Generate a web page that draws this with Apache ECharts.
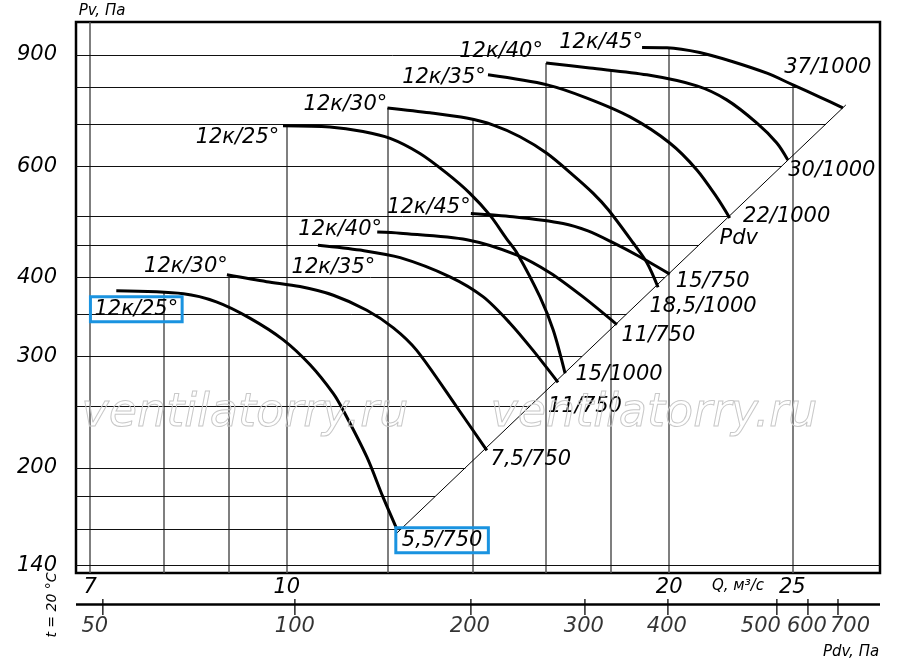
<!DOCTYPE html>
<html><head><meta charset="utf-8">
<script src="https://cdn.jsdelivr.net/npm/echarts@6/dist/echarts.min.js"></script>
<style>html,body{margin:0;padding:0;background:#fff}#c{width:900px;height:669px}</style>
</head><body><div id="c"></div>
<script>
// ---- axis extents (Q, m3/s ; Pv, Pa) ----
const Q_MIN = 6.823, Q_MAX = 29.31, P_MIN = 136.3, P_MAX = 1014.7;

// ---- labels ----
const bladeLabels = ['12к/25°','12к/30°','12к/35°','12к/40°','12к/45°'];
const motor750 = ['5,5/750','7,5/750','11/750','11/750','15/750'];
const motor1000 = ['15/1000','18,5/1000','22/1000','30/1000','37/1000'];

// ---- curves [Q, Pv], 750 rpm group ----
const c750_25 = [[7.34,381],[8.29,377],[8.8,366],[9.35,345],[9.93,319],[10.43,291],[10.88,262],[11.07,247],[11.56,208],[11.9,180],[12.19,161]];
const c750_30 = [[8.97,404],[9.64,394],[10.24,387],[10.88,375],[11.56,355],[12.13,333],[12.65,307],[13.6,250],[14.37,213]];
const c750_35 = [[10.58,450],[11.42,442],[12.28,430],[13.44,401],[14.27,373],[14.98,339],[15.62,307],[16.35,273]];
const c750_40 = [[11.78,472],[12.28,470],[13.86,459],[15.18,434],[16.11,407],[17.1,373],[18.19,337]];
const c750_45 = [[13.96,505],[15.07,499],[16.5,487],[17.26,474],[18.03,455],[18.9,433],[20.02,405]];
// ---- curves [Q, Pv], 1000 rpm group ----
const c1000_25 = [[9.93,695],[10.81,692],[11.48,681],[12.06,664],[12.72,629],[13.36,585],[13.93,544],[14.45,502],[14.89,461],[15.18,437],[15.82,373],[16.21,330],[16.56,282]];
const c1000_30 = [[12.0,742],[12.96,729],[13.85,715],[14.54,697],[15.26,668],[16.02,629],[16.8,581],[17.42,544],[17.91,512],[18.73,454],[19.21,422],[19.6,386]];
const c1000_35 = [[14.4,837],[16.03,807],[17.23,769],[18.63,718],[20.02,653],[21.03,592],[21.8,536],[22.32,497]];
const c1000_40 = [[16.0,874],[17.32,858],[19.21,837],[21.03,804],[22.2,764],[23.45,702],[24.31,653],[24.8,614]];
const c1000_45 = [[19.04,925],[19.92,924],[21.14,908],[22.45,878],[23.88,842],[25.03,807],[26.28,772],[27.4,742]];
// ---- dynamic pressure line ----
const pdvLine = [[12.2,157.5],[27.55,750]];

// ---- grid & ticks ----
const qGrid = [7,8,9,10,12,14,16,18,20,25];
const pGrid = [140,160,180,200,250,300,350,400,450,500,600,700,800,900];
const qTickLabels = [7,10,20,25];
const pTickLabels = [140,200,300,400,600,900];
const pdvTickLabels = ['50','100','200','300','400','500','600','700'];
const pdvTickQ = [7.163,10.146,13.96,17.166,19.953,24.31,25.72,27.16];

// ---- label placement (pixel offsets) ----
const startOff750 = [[20,18.5],[-41,-8],[15.5,22],[-37,-3],[-42,-5.5]];
const endOff750 = [[46,13],[44,9],[27,24],[41.5,11],[43,7]];
const startOff1000 = [[-45.5,12],[-42,-3],[-44,2.5],[-45,-11],[-41,-5]];
const endOff1000 = [[54,1],[45,19],[57,-1],[44,11],[-15,-40]];
const pdvLabelDx = [-8,0,-1,-1,-1,-16,-1,12];

const curves750 = [c750_25,c750_30,c750_35,c750_40,c750_45];
const curves1000 = [c1000_25,c1000_30,c1000_35,c1000_40,c1000_45];
const allCurves = curves750.concat(curves1000);

const L = Math.log10;
function pAt(c,q){for(let i=0;i<c.length-1;i++){const [q1,p1]=c[i],[q2,p2]=c[i+1];if(q>=q1&&q<=q2){const t=(L(q)-L(q1))/(L(q2)-L(q1));return Math.pow(10,L(p1)+t*(L(p2)-L(p1)));}}return null;}
function qAt(c,p){let best=null;for(let i=0;i<c.length-1;i++){const [q1,p1]=c[i],[q2,p2]=c[i+1];if(p1===p2)continue;if(p>=Math.min(p1,p2)&&p<=Math.max(p1,p2)){const t=(L(p)-L(p1))/(L(p2)-L(p1));const q=Math.pow(10,L(q1)+t*(L(q2)-L(q1)));if(best===null||q>best)best=q;}}return best;}

const segs=[];
qGrid.forEach(q=>{let top=null;allCurves.forEach(c=>{const v=pAt(c,q);if(v!==null&&(top===null||v>top))top=v;});
  segs.push({coords:[[q,P_MIN],[q,top===null?P_MAX:top]],lineStyle:{color:'#555',width:1.5}});});
pGrid.forEach(p=>{let r=null;allCurves.concat([pdvLine]).forEach(c=>{const v=qAt(c,p);if(v!==null&&(r===null||v>r))r=v;});
  segs.push({coords:[[Q_MIN,p],[r===null?Q_MAX:r,p]],lineStyle:{color:'#111',width:1}});});

const FONT={fontFamily:'DejaVu Sans',fontStyle:'italic',fontSize:21,color:'#000'};
const BLUE='#1a93e0';
function mkLabel(pt,text,off,boxed,padH){
  const lab=Object.assign({show:true,position:'inside',formatter:text,offset:off,lineHeight:23,textBorderWidth:0,opacity:1},FONT);
  if(boxed){lab.borderColor=BLUE;lab.borderWidth=3;lab.padding=[1,padH,1,padH];}
  return {value:pt,label:lab};
}
const labelItems=[];
curves750.forEach((c,i)=>{labelItems.push(mkLabel(c[0],bladeLabels[i],startOff750[i],i===0,4));labelItems.push(mkLabel(c[c.length-1],motor750[i],endOff750[i],i===0,6));});
curves1000.forEach((c,i)=>{labelItems.push(mkLabel(c[0],bladeLabels[i],startOff1000[i],false));labelItems.push(mkLabel(c[c.length-1],motor1000[i],endOff1000[i],false));});
labelItems.push(mkLabel(c1000_35[c1000_35.length-1],'Pdv',[9,21],false));

const series=[
  {type:'lines',coordinateSystem:'cartesian2d',xAxisIndex:0,yAxisIndex:0,data:segs,silent:true,z:1,lineStyle:{opacity:1}},
  {type:'line',xAxisIndex:0,yAxisIndex:0,data:pdvLine,showSymbol:false,lineStyle:{color:'#000',width:1},z:2,silent:true}
];
allCurves.forEach(c=>series.push({type:'line',xAxisIndex:0,yAxisIndex:0,data:c,smooth:0.3,showSymbol:false,lineStyle:{color:'#000',width:3},z:3,silent:true}));
series.push({type:'scatter',xAxisIndex:0,yAxisIndex:0,data:labelItems,symbolSize:1,itemStyle:{color:'rgba(255,255,255,0)'},z:5,silent:true});
// Pdv scale
series.push({type:'lines',coordinateSystem:'cartesian2d',xAxisIndex:1,yAxisIndex:1,data:[{coords:[[Q_MIN,5],[Q_MAX,5]]}],lineStyle:{color:'#000',width:2.5,opacity:1},silent:true});
series.push({type:'scatter',xAxisIndex:1,yAxisIndex:1,symbol:'rect',symbolSize:[1.6,16],itemStyle:{color:'#000'},silent:true,
  data:pdvTickQ.map((q,i)=>({value:[q,8],label:Object.assign({show:true,position:'bottom',distance:1,formatter:pdvTickLabels[i],offset:[pdvLabelDx[i],0]},FONT)}))});

const chart=echarts.init(document.getElementById('c'),null,{renderer:'canvas'});
const smallFont='italic 15px "DejaVu Sans"';
chart.setOption({
  animation:false,
  backgroundColor:'#fff',
  grid:[{left:76,right:20,top:22,bottom:96,show:true,borderColor:'#000',borderWidth:2.5,backgroundColor:'transparent'},
        {left:76,right:20,top:599,height:16}],
  xAxis:[{type:'log',gridIndex:0,min:Q_MIN,max:Q_MAX,axisLine:{show:false},axisTick:{show:false},splitLine:{show:false},minorSplitLine:{show:false},
          axisLabel:Object.assign({customValues:qTickLabels,margin:4},FONT)},
         {type:'log',gridIndex:1,min:Q_MIN,max:Q_MAX,show:false}],
  yAxis:[{type:'log',gridIndex:0,min:P_MIN,max:P_MAX,axisLine:{show:false},axisTick:{show:false},splitLine:{show:false},
          axisLabel:Object.assign({customValues:pTickLabels,margin:19,padding:[0,0,5,0]},FONT)},
         {type:'value',gridIndex:1,min:0,max:16,inverse:true,show:false}],
  graphic:[
    {type:'text',x:102,y:11,style:{text:'Pv, Па',font:smallFont,fill:'#000',align:'center',verticalAlign:'middle'}},
    {type:'text',x:738,y:586,style:{text:'Q, м³/с',font:smallFont,fill:'#000',align:'center',verticalAlign:'middle'}},
    {type:'text',x:851,y:652,style:{text:'Pdv, Па',font:smallFont,fill:'#000',align:'center',verticalAlign:'middle'}},
    {type:'text',x:52,y:605,rotation:Math.PI/2,style:{text:'t = 20 °C',font:'italic 14px "DejaVu Sans"',fill:'#000',align:'center',verticalAlign:'middle'}},
    {type:'text',x:245,y:414,z:100,style:{text:'ventilatorry.ru',font:'italic 46px "DejaVu Sans"',fill:'rgba(0,0,0,0)',stroke:'#c8c8c8',lineWidth:1,align:'center',verticalAlign:'middle'}},
    {type:'text',x:654,y:414,z:100,style:{text:'ventilatorry.ru',font:'italic 46px "DejaVu Sans"',fill:'rgba(0,0,0,0)',stroke:'#c8c8c8',lineWidth:1,align:'center',verticalAlign:'middle'}}
  ],
  series:series
});
</script></body></html>
